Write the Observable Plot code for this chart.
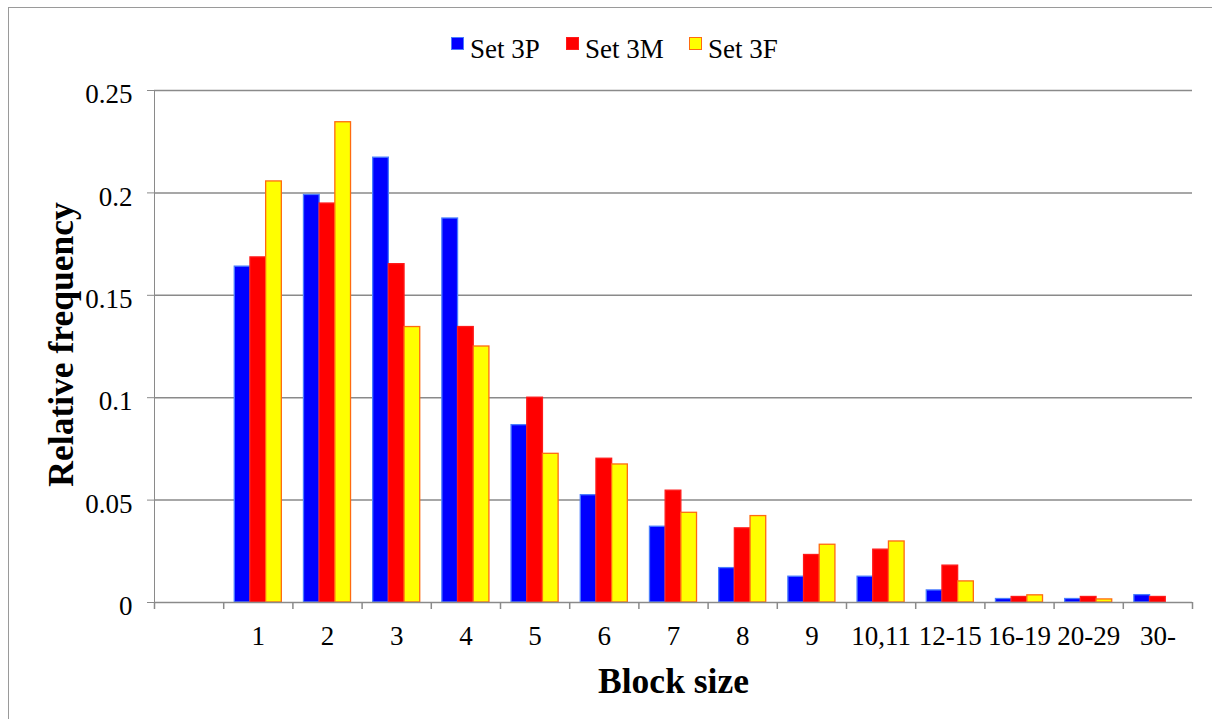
<!DOCTYPE html>
<html>
<head>
<meta charset="utf-8">
<script src="https://cdn.jsdelivr.net/npm/d3@7"></script>
<script src="https://cdn.jsdelivr.net/npm/@observablehq/plot@0.6"></script>
<style>
  html, body { margin: 0; padding: 0; background: #fff; }
  #wrap { position: relative; width: 1212px; height: 719px; overflow: hidden; font-family: "Liberation Serif", "Times New Roman", serif; }
  #border { position: absolute; left: 8px; top: 7px; width: 1230px; height: 730px; border: 1.5px solid #9a9a9a; box-sizing: border-box; }
  #chart { position: absolute; left: 0; top: 0; }
  #chart svg text { fill: #000; }
  .sw { position: absolute; width: 13px; height: 13px; box-sizing: border-box; }
  .lt { position: absolute; font-size: 27px; line-height: 27px; color: #000; white-space: nowrap; }
</style>
</head>
<body>
<div id="wrap">
  <div id="border"></div>
  <div id="legend"></div>
  <div id="chart"></div>
</div>
<script>
// ---- data ----
const categories = ["", "1", "2", "3", "4", "5", "6", "7", "8", "9", "10,11", "12-15", "16-19", "20-29", "30-"];
const blockSizes = ["1", "2", "3", "4", "5", "6", "7", "8", "9", "10,11", "12-15", "16-19", "20-29", "30-"];
const set3P = [0.164, 0.199, 0.2172, 0.1875, 0.0866, 0.0524, 0.0370, 0.0168, 0.0126, 0.0126, 0.0059, 0.0017, 0.0017, 0.0036];
const set3M = [0.1685, 0.1948, 0.1652, 0.1345, 0.1000, 0.0702, 0.0546, 0.0362, 0.0232, 0.0258, 0.0180, 0.0027, 0.0027, 0.0027];
const set3F = [0.2056, 0.2345, 0.1345, 0.1250, 0.0726, 0.0674, 0.0438, 0.0422, 0.0282, 0.0298, 0.0103, 0.0035, 0.0015, 0];
const seriesNames = ["Set 3P", "Set 3M", "Set 3F"];
const yTicks = [0, 0.05, 0.1, 0.15, 0.2, 0.25];
const yTickLabels = ["0", "0.05", "0.1", "0.15", "0.2", "0.25"];

// ---- styles ----
const fills = ["#0000ff", "#ff0000", "#ffff00"];
const strokes = ["#4a7dff", "#ff1a1a", "#ff6a10"];

// ---- layout ----
const W = 1212, H = 719;
const mL = 154, mR = 20, mT = 90, mB = 117;
const padInner = 0.32, padOuter = 0.16;
const step = (W - mL - mR) / categories.length;
const bw = step * (1 - padInner);
const sub = bw / 3;

const seriesVals = [set3P, set3M, set3F];
const rows = seriesVals.map(vals => blockSizes.map((c, i) => ({cat: c, value: vals[i]})).filter(d => d.value > 0));

const barMarks = rows.map((data, s) => Plot.barY(data, {
  x: "cat", y: "value",
  fill: fills[s], stroke: strokes[s], strokeWidth: 1.3,
  insetLeft: s * sub, insetRight: (2 - s) * sub
}));

const plot = Plot.plot({
  width: W, height: H,
  marginLeft: mL, marginRight: mR, marginTop: mT, marginBottom: mB,
  style: { fontFamily: "'Liberation Serif', 'Times New Roman', serif", fontSize: "27px", color: "#8a8a8a", background: "transparent" },
  x: { domain: categories, paddingInner: padInner, paddingOuter: padOuter, round: false, tickSize: 0, tickPadding: 23, label: null },
  y: { domain: [0, 0.25], ticks: yTicks, tickSize: 7, tickPadding: 15, tickFormat: () => "", line: true, label: null },
  marks: [
    Plot.ruleY(yTicks.filter(d => d > 0), { stroke: "#8a8a8a", strokeWidth: 1.5 }),
    ...barMarks,
    Plot.ruleY([0], { stroke: "#8a8a8a", strokeWidth: 1.5 }),
    // category boundary ticks on the x axis
    Plot.ruleX(categories, { x: d => d, y1: 0, y2: 0, insetBottom: -7, dx: -step / 2, stroke: "#8a8a8a", strokeWidth: 1.5 }),
    Plot.ruleX([categories[categories.length - 1]], { x: d => d, y1: 0, y2: 0, insetBottom: -7, dx: step / 2, stroke: "#8a8a8a", strokeWidth: 1.5 }),
    // y tick labels
    Plot.text(yTicks, { y: d => d, text: (d, i) => yTickLabels[i], frameAnchor: "left", dx: -22, dy: 4, textAnchor: "end", lineAnchor: "middle", fill: "#000", fontSize: 27 }),
    Plot.text(["Block size"], { text: d => d, frameAnchor: "bottom", dy: 90, lineAnchor: "bottom", fontSize: 35.5, fontWeight: "bold", fill: "#000" }),
    Plot.text(["Relative frequency"], { text: d => d, frameAnchor: "left", dx: -93, dy: -2, rotate: -90, textAnchor: "middle", lineAnchor: "middle", fontSize: 35.5, fontWeight: "bold", fill: "#000" })
  ]
});
document.getElementById("chart").appendChild(plot);

// ---- legend (HTML) ----
const legend = document.getElementById("legend");
const swX = [451, 566, 689], txX = [470, 585, 708];
seriesNames.forEach((name, i) => {
  const sw = document.createElement("div");
  sw.className = "sw";
  sw.style.left = swX[i] + "px"; sw.style.top = "37px";
  sw.style.background = fills[i];
  sw.style.border = "1.5px solid " + strokes[i];
  legend.appendChild(sw);
  const t = document.createElement("div");
  t.className = "lt";
  t.style.left = txX[i] + "px"; t.style.top = "36px";
  t.textContent = name;
  legend.appendChild(t);
});
</script>
</body>
</html>
